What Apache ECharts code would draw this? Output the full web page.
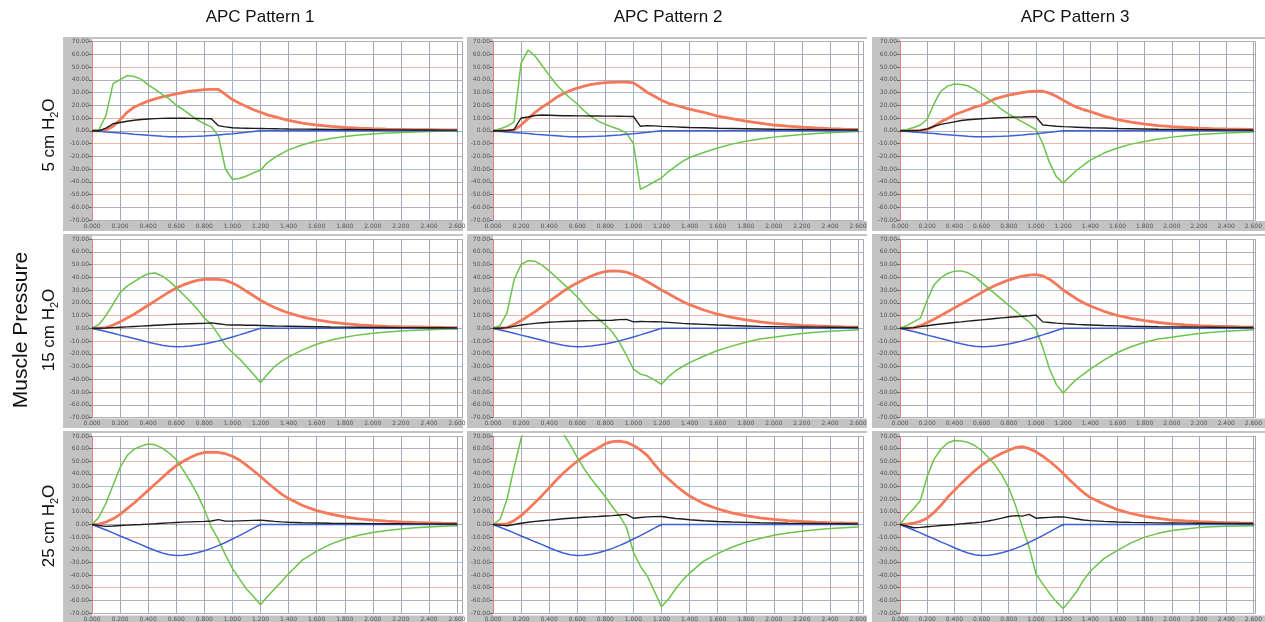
<!DOCTYPE html>
<html><head><meta charset="utf-8">
<script src="https://cdn.jsdelivr.net/npm/echarts@6/dist/echarts.min.js"></script>
<style>html,body{margin:0;padding:0;background:#fff}#c{width:1265px;height:622px}</style>
</head><body><div id="c"></div>
<script>
// time axis (s)
const T = [0,0.05,0.1,0.15,0.2,0.25,0.3,0.35,0.4,0.45,0.5,0.55,0.6,0.65,0.7,0.75,0.8,0.85,0.9,0.95,1.0,1.05,1.1,1.15,1.2,1.25,1.3,1.35,1.4,1.5,1.6,1.7,1.8,1.9,2.0,2.1,2.2,2.3,2.4,2.5,2.6];
const COL_TITLES = ['APC Pattern 1','APC Pattern 2','APC Pattern 3'];
const ROW_LABELS = ['5','15','25'];
// muscle pressure (blue), per row
const PMUS_5  = [0,-0.4,-0.9,-1.3,-1.8,-2.2,-2.7,-3.1,-3.6,-4.0,-4.4,-4.7,-4.8,-4.8,-4.6,-4.4,-4.1,-3.7,-3.3,-2.8,-2.3,-1.7,-1.2,-0.6,0,0,0,0,0,0,0,0,0,0,0,0,0,0,0,0,0];
const PMUS_15 = [0,-1.3,-2.6,-3.9,-5.4,-6.7,-8.1,-9.4,-10.9,-12.2,-13.3,-14.2,-14.5,-14.4,-13.9,-13.2,-12.3,-11.2,-9.9,-8.4,-6.8,-5.2,-3.5,-1.7,0,0,0,0,0,0,0,0,0,0,0,0,0,0,0,0,0];
const PMUS_25 = [0,-2.2,-4.4,-6.6,-9.1,-11.3,-13.7,-15.9,-18.4,-20.6,-22.5,-24.0,-24.5,-24.3,-23.5,-22.3,-20.8,-18.9,-16.7,-14.2,-11.5,-8.8,-5.9,-2.9,0,0,0,0,0,0,0,0,0,0,0,0,0,0,0,0,0];
// green
const G11 = [0,1,12,37,40,43.3,42.5,40.5,36,32.5,28.5,25,20,16.5,12.5,8.5,5.5,3,-4,-30,-38,-37.5,-35.5,-33,-31,-25,-21,-18,-15,-11,-8,-6,-4.5,-3.3,-2.5,-1.8,-1.3,-0.9,-0.6,-0.4,-0.3];
const G12 = [0,1.5,3.5,7,53,63.3,58.5,51,43.6,36.5,30.5,25.5,21,15.5,11,7.5,5,3,1,-1.8,-10,-46,-43,-40,-37,-32,-28,-24,-21,-17,-13.5,-10.5,-8.2,-6.5,-5,-4,-3,-2.2,-1.6,-1,-0.6];
const G13 = [0,1,2.5,4.5,9,21,31,35,36.7,36.3,35.3,32.5,29,25,21,16.5,13,10,7,4,1,-10,-25,-36,-41,-36,-31,-27,-23,-17.5,-13.5,-10.5,-8.5,-6.5,-5,-4,-3,-2.3,-1.7,-1.3,-1];
const G21 = [0,3,10,19,28,33,36.5,40,42.8,43.3,41,37,32,26.5,21,15,8,3,-5,-13.5,-19,-24,-30,-36,-42.5,-36,-30,-26,-22.5,-17,-12.5,-9.3,-7,-5.2,-4,-3,-2.2,-1.6,-1.2,-0.8,-0.5];
const G22 = [0,2,12,38,50,53,52.5,49.5,45,40,35,30,24.5,18,12,7.5,2.5,-3,-11,-21,-32,-36,-37.5,-40.5,-44,-38,-33.5,-30,-27,-22,-17.5,-14,-11,-8.5,-7,-5.5,-4.2,-3.2,-2.4,-1.7,-1.2];
const G23 = [0,2,5,8,22,34,39.5,43,44.8,45,43.5,40.5,36,31.5,27,22.5,18,13.5,9,5,-1,-15,-32,-44,-51,-45,-40,-36,-32,-25,-19,-14.5,-11,-8.5,-7,-5.5,-4.2,-3.2,-2.4,-1.7,-1.2];
const G31 = [0,6,17,31,45,54.5,59.5,62,63.7,63,60.4,56.5,51.3,43,34,24,12,-2,-12,-24,-34.7,-43,-51,-57,-63.4,-57,-51,-45,-39,-28,-21,-15.5,-11.5,-8.5,-6.3,-4.7,-3.5,-2.6,-1.9,-1.4,-1];
const G32 = [0,4,20,45,68,82,88,89,86,80,72,63,53,44,36,29,22,14,7,-2,-22,-33,-41,-53,-65,-59,-51,-44,-38.5,-29,-23,-18,-14,-11,-8.5,-6.8,-5.3,-4.1,-3.2,-2.5,-2];
const G33 = [0,7,12.5,19,38,51.5,59.5,64.5,66.4,66,65,62.5,58.5,53,47,39,29,15,-2,-18,-39,-47,-54.5,-61,-66.5,-60,-53,-44,-37,-27,-20.5,-14.5,-10,-7,-4.8,-3.5,-2.4,-1.8,-1.4,-1.1,-1];
// orange
const O11 = [0,0,0.5,3.5,8.5,14.5,18.5,21,23.3,25,26.5,27.8,29,30,31,31.7,32.2,32.5,32.4,28.5,24.5,21.5,19,16.5,14.5,12.5,11,9.5,8.2,6,4.5,3.4,2.6,2,1.6,1.3,1.1,0.9,0.8,0.7,0.6];
const O12 = [0,0,0,0.5,4.5,9.5,14.5,18.5,22,26,29,31.5,33.5,35,36.3,37.2,37.8,38,38.2,38.1,37.5,34,30,27,24,21.5,20,18.5,17,14.5,11.5,9.5,7.5,6,4.5,3.6,2.8,2.2,1.7,1.3,1];
const O13 = [0,0,0,0.2,1,3.5,7,9.5,12.5,14.5,16.5,18.5,20,22.5,25,26.5,28,29,30,30.7,31,31,29.5,27,24,21,18.5,16.5,15,11.5,8.8,6.8,5.2,4,3.2,2.6,2.1,1.7,1.4,1.2,1];
const O21 = [0,0,0.5,2.5,5,8,11,14.5,18,21.5,25,28.5,31.5,34,36,37.5,38.3,38.5,38.3,37.5,35.5,32.5,29,25.5,22,19,16.3,14,12,8.8,6.5,4.8,3.6,2.7,2,1.5,1.2,1,0.8,0.6,0.5];
const O22 = [0,0,0.5,3,6,9.5,13,17,21,25,29,32.5,35.5,38.5,41,43,44.5,45,44.8,44,42,39.5,36.5,33.3,30,27,24,21,18.5,14.3,11,8.5,6.5,5,3.8,3,2.3,1.8,1.4,1.1,0.9];
const O23 = [0,0,0.3,2,4.5,7,10,13,16,19,22,25,28,31,33.5,35.8,37.8,39.5,40.8,41.7,42,41,38.5,34.5,30,26.5,23,20,17.5,13.3,10,7.7,5.9,4.5,3.4,2.7,2.1,1.7,1.4,1.1,0.9];
const O31 = [0,0.3,2,4.5,8,12.5,17,22,27,32,37,42,46.5,50,53,55.5,57,57.3,57,56,54,51,47,42.5,38,33,28.5,24,20.5,15,11,8.2,6,4.5,3.4,2.6,2,1.6,1.3,1,0.8];
const O32 = [0,0,0.5,3,7,12,17.5,23,29,35,40.5,45.5,50,54,57.5,60.5,64,65.5,66,65,62.5,59,54.5,47.5,41,36,31,26.5,22.5,16.5,12.3,9.2,7,5.3,4,3.1,2.4,1.9,1.5,1.2,1];
const O33 = [0,0.3,1,2.5,5,9.5,15,21.5,27,32.5,37.5,42.5,47,50.5,53.5,56.3,58.7,60.8,61.6,60,57.5,54,50,45.5,40.5,35,30,25.3,21.3,16.2,11.8,8.7,6.5,4.8,3.5,2.8,2.2,1.8,1.5,1.2,1];
// black
const B11 = [0,0,2,5.5,6.5,7.5,8.2,8.8,9.2,9.5,9.7,9.8,9.8,9.8,9.7,9.6,9.5,9.4,4,3,2.3,2.1,2,1.9,1.8,1.7,1.6,1.5,1.4,1.3,1.2,1.1,1,0.9,0.8,0.7,0.7,0.6,0.6,0.5,0.5];
const B12 = [0,0,0,1,10,10.8,12,12.3,12.2,12,11.8,11.8,11.7,11.7,11.6,11.6,11.5,11.5,11.4,11.3,11.2,3.5,4,3.8,3.4,3.2,3,2.8,2.6,2.3,2,1.8,1.6,1.4,1.2,1.1,1,0.9,0.8,0.7,0.6];
const B13 = [0,0,0,0.3,1.5,3.5,5,6,7,8,8.6,9,9.4,9.7,10,10.3,10.5,10.7,10.8,11,11,4.5,4,3.5,3.2,3,2.8,2.6,2.4,2.1,1.8,1.6,1.4,1.2,1.1,1,0.9,0.8,0.7,0.6,0.6];
const B21 = [0,0,0.2,0.5,0.8,1.1,1.4,1.7,2,2.3,2.6,2.9,3.1,3.3,3.5,3.7,3.8,4.2,3.5,2.8,2.6,2.5,2.4,2.3,2.2,2,1.8,1.7,1.6,1.4,1.2,1,0.9,0.8,0.7,0.6,0.5,0.5,0.4,0.4,0.3];
const B22 = [0,0,0.5,1.5,2.5,3.2,3.8,4.3,4.7,5,5.3,5.5,5.7,5.9,6,6.1,6.2,6.3,6.8,7,5,5.3,5.2,5.1,5,4.6,4.2,3.8,3.5,3,2.5,2.1,1.8,1.5,1.3,1.1,1,0.9,0.8,0.7,0.6];
const B23 = [0,0,0.5,1.3,2,2.7,3.3,3.9,4.5,5,5.6,6.1,6.6,7.1,7.6,8.1,8.6,9,9.4,9.8,10.3,5,4.5,4,3.6,3.3,3,2.8,2.6,2.2,1.9,1.6,1.4,1.2,1.1,1,0.9,0.8,0.7,0.6,0.6];
const B31 = [0,-0.8,-1.5,-1.2,-0.8,-0.5,-0.2,0,0.3,0.6,1,1.3,1.6,1.9,2.1,2.3,2.5,2.8,3.9,2.7,2.7,2.9,3.1,3.3,3.5,3,2.5,2.1,1.8,1.4,1.2,1,0.9,0.8,0.7,0.6,0.6,0.5,0.5,0.4,0.4];
const B32 = [0,-0.5,-1,0,1,1.8,2.5,3,3.5,4,4.5,5,5.3,5.7,6,6.3,6.7,7,7.5,8,5,5.5,6,6.2,6.3,5.5,4.8,4.3,3.8,3,2.4,2,1.7,1.4,1.2,1,0.9,0.8,0.7,0.6,0.5];
const B33 = [0,-1.2,-2.6,-2.3,-1.8,-1.3,-0.8,-0.4,0,0.5,1,1.4,1.9,2.8,3.9,5,6.3,7,6.6,8,5,5.3,5.6,5.9,6,5.2,4.4,3.6,3.1,2.5,2,1.7,1.5,1.3,1.2,1.1,1,0.9,0.9,0.8,0.8];

const PANELS = [
  [ {g:G11,o:O11,b:B11,p:PMUS_5},  {g:G12,o:O12,b:B12,p:PMUS_5},  {g:G13,o:O13,b:B13,p:PMUS_5} ],
  [ {g:G21,o:O21,b:B21,p:PMUS_15}, {g:G22,o:O22,b:B22,p:PMUS_15}, {g:G23,o:O23,b:B23,p:PMUS_15} ],
  [ {g:G31,o:O31,b:B31,p:PMUS_25}, {g:G32,o:O32,b:B32,p:PMUS_25}, {g:G33,o:O33,b:B33,p:PMUS_25} ]
];

// layout
const COLS = [ {left:92, width:370.7, xmax:2.64, fx0:63, fx1:463},
               {left:493, width:370.7, xmax:2.64, fx0:467, fx1:867},
               {left:900, width:365, xmax:2.615, fx0:872, fx1:1265} ];
const ROWS = [ {top:41.5, height:178.5, fy0:37, fy1:231},
               {top:239, height:178.5, fy0:234, fy1:428},
               {top:436, height:178.5, fy0:431, fy1:630} ];
const C_GREEN='#6cc44c', C_ORANGE='#f4785a', C_BLACK='#1c1c1c', C_BLUE='#3d60d4';
const G_='#b0b0bc', R_='#ebb5a8', B_='#a8c4dc';
const YGRID_COLORS = [G_,G_,R_,G_,B_,G_,R_,G_,R_,G_,B_,G_,R_,G_,G_];
const XGRID_COLORS = ['#e08080','#a4a8b4','#a4a8b4','#a4a8b4','#a4a8b4','#9cb4cc','#a4a8b4','#a4a8b4','#a4a8b4','#a4a8b4','#a4a8b4','#a4a8b4','#a4a8b4','#a4a8b4','#a4a8b4'];

const grids=[], xAxes=[], yAxes=[], series=[], graphics=[];
const pairs = arr => T.map((t,i)=>[t,arr[i]]);
let k=0;
ROWS.forEach((R,r)=>{
  COLS.forEach((C,c)=>{
    graphics.push({type:'rect', z:-10, silent:true, shape:{x:C.fx0,y:R.fy0,width:C.fx1-C.fx0,height:R.fy1-R.fy0}, style:{fill:'#c3c3c3'}});
    graphics.push({type:'rect', z:-9, silent:true, shape:{x:C.left,y:R.fy0+2,width:C.fx1-C.left,height:R.top+R.height+1-(R.fy0+2)}, style:{fill:'#ffffff'}});
    grids.push({left:C.left, top:R.top, width:C.width, height:R.height, containLabel:false});
    xAxes.push({type:'value', gridIndex:k, min:0, max:C.xmax, interval:0.2,
      axisLine:{show:false}, axisTick:{show:true,length:2,lineStyle:{color:'#666'}},
      axisLabel:{fontSize:6, color:'#555', margin:3, showMaxLabel:false, formatter:v=>v.toFixed(3), fontFamily:'DejaVu Sans'},
      splitLine:{show:true, lineStyle:{color:XGRID_COLORS, width:1}}});
    yAxes.push({type:'value', gridIndex:k, min:-70, max:70, interval:10,
      axisLine:{show:false}, axisTick:{show:true,length:3,lineStyle:{color:'#666'}},
      axisLabel:{fontSize:6, color:'#555', margin:3, formatter:v=>v.toFixed(2), fontFamily:'DejaVu Sans'},
      splitLine:{show:true, lineStyle:{color:YGRID_COLORS, width:1}}});
    const P = PANELS[r][c];
    const base = {type:'line', xAxisIndex:k, yAxisIndex:k, showSymbol:false, symbol:'none', animation:false, clip:true};
    series.push(Object.assign({}, base, {data:pairs(P.o), lineStyle:{color:C_ORANGE,width:2.8}, z:2}));
    series.push(Object.assign({}, base, {data:pairs(P.g), lineStyle:{color:C_GREEN,width:1.5}, z:3}));
    series.push(Object.assign({}, base, {data:pairs(P.p), lineStyle:{color:C_BLUE,width:1.5}, z:4}));
    series.push(Object.assign({}, base, {data:pairs(P.b), lineStyle:{color:C_BLACK,width:1.4}, z:5}));
    k++;
  });
});
const titleX=[260,668,1075];
COL_TITLES.forEach((t,i)=>graphics.push({type:'text', z:10, style:{text:t, x:titleX[i], y:17, align:'center', verticalAlign:'middle', fontSize:17, fontFamily:'Liberation Sans', fill:'#111'}}));
const rowY=[135,330,526];
ROW_LABELS.forEach((t,i)=>graphics.push({type:'text', z:10, x:49, y:rowY[i], rotation:Math.PI/2,
  style:{text:'{a|'+t+' cm H}{s|2}{a|O}', align:'center', verticalAlign:'middle', fill:'#111',
    rich:{a:{fontSize:17, fontFamily:'Liberation Sans', fill:'#111', lineHeight:22, verticalAlign:'middle'},
          s:{fontSize:11, fontFamily:'Liberation Sans', fill:'#111', lineHeight:22, verticalAlign:'bottom', padding:[8,0,0,0]}}}}));
graphics.push({type:'text', z:10, x:21, y:330, rotation:Math.PI/2, style:{text:'Muscle Pressure', align:'center', verticalAlign:'middle', fontSize:21, fontFamily:'Liberation Sans', fill:'#111'}});

const chart = echarts.init(document.getElementById('c'), null, {renderer:'canvas'});
chart.setOption({animation:false, grid:grids, xAxis:xAxes, yAxis:yAxes, series:series, graphic:graphics});
</script></body></html>
